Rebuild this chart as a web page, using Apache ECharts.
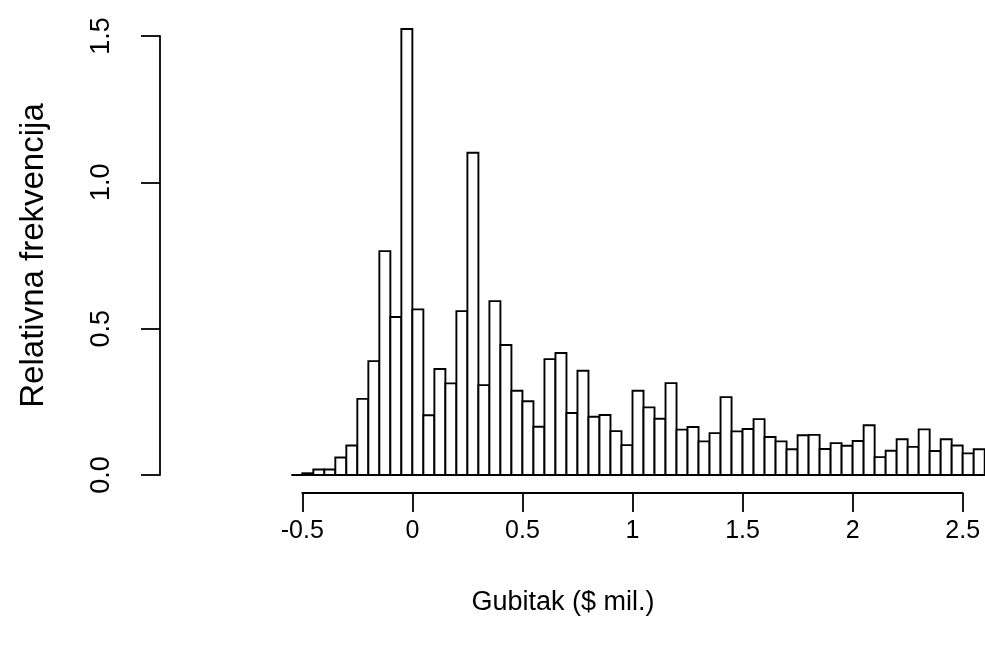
<!DOCTYPE html>
<html>
<head>
<meta charset="utf-8">
<script src="https://cdn.jsdelivr.net/npm/echarts@6/dist/echarts.min.js"></script>
<style>
html,body{margin:0;padding:0;background:#fff;}
#main{width:985px;height:647px;}
</style>
</head>
<body>
<div id="main"></div>
<script>
// Histogram bins (lower edges, width 0.05) and relative frequency (density) values
const binLower = [-0.55,-0.5,-0.45,-0.4,-0.35,-0.3,-0.25,-0.2,-0.15,-0.1,-0.05,
  0,0.05,0.1,0.15,0.2,0.25,0.3,0.35,0.4,0.45,0.5,0.55,0.6,0.65,0.7,0.75,0.8,0.85,0.9,0.95,
  1.0,1.05,1.1,1.15,1.2,1.25,1.3,1.35,1.4,1.45,1.5,1.55,1.6,1.65,1.7,1.75,1.8,1.85,1.9,1.95,
  2.0,2.05,2.1,2.15,2.2,2.25,2.3,2.35,2.4,2.45,2.5,2.55];
const binWidth = 0.05;
const density = [0.0,0.006,0.019,0.019,0.060,0.101,0.260,0.389,0.765,0.540,1.524,
  0.566,0.204,0.362,0.313,0.560,1.101,0.307,0.594,0.444,0.288,0.252,0.165,0.396,0.417,0.212,0.356,0.199,0.205,0.150,0.102,
  0.288,0.231,0.192,0.314,0.155,0.164,0.115,0.143,0.266,0.149,0.157,0.191,0.130,0.115,0.088,0.136,0.137,0.089,0.109,0.100,
  0.116,0.170,0.061,0.083,0.122,0.096,0.156,0.082,0.122,0.101,0.074,0.088];
const xTicks = [-0.5, 0, 0.5, 1, 1.5, 2, 2.5];
const yTicks = [0, 0.5, 1.0, 1.5];
const xTitle = 'Gubitak ($ mil.)';
const yTitle = 'Relativna frekvencija';

const FONT = '"Liberation Sans", Arial, sans-serif';
const chart = echarts.init(document.getElementById('main'), null, {renderer: 'canvas'});

const histData = binLower.map((lo, i) => [lo, lo + binWidth, density[i]]);

chart.setOption({
  animation: false,
  backgroundColor: '#ffffff',
  textStyle: {fontFamily: FONT},
  grid: [
    {left: 291.3, top: 36, width: 693.4, height: 439},
    {left: 302.3, top: 36, width: 660.4, height: 457}
  ],
  xAxis: [
    {gridIndex: 0, type: 'value', min: -0.55, max: 2.6, show: false},
    {gridIndex: 1, type: 'value', min: xTicks[0], max: xTicks[xTicks.length - 1], interval: 0.5,
     axisLine: {show: true, onZero: false, lineStyle: {color: '#000', width: 1.8}},
     axisTick: {show: true, inside: false, length: 19, lineStyle: {color: '#000', width: 1.8}},
     axisLabel: {show: true, margin: 26, color: '#000', fontSize: 25, fontFamily: FONT,
       formatter: v => String(v)},
     splitLine: {show: false}}
  ],
  yAxis: [
    {gridIndex: 0, type: 'value', min: yTicks[0], max: yTicks[yTicks.length - 1], interval: 0.5, offset: 131.3,
     axisLine: {show: true, onZero: false, lineStyle: {color: '#000', width: 1.8}},
     axisTick: {show: true, inside: false, length: 19, lineStyle: {color: '#000', width: 1.8}},
     axisLabel: {show: true, rotate: 90, margin: 45, color: '#000', fontSize: 27, fontFamily: FONT,
       formatter: v => v.toFixed(1)},
     splitLine: {show: false},
     name: yTitle, nameLocation: 'middle', nameRotate: 90, nameGap: 110,
     nameTextStyle: {color: '#000', fontSize: 33, fontFamily: FONT}},
    {gridIndex: 1, type: 'value', min: 0, max: 1, show: false}
  ],
  title: {
    text: xTitle, left: 558, top: 584, textAlign: 'center',
    textStyle: {color: '#000', fontSize: 27, fontWeight: 'normal', fontFamily: FONT}
  },
  series: [{
    type: 'custom',
    xAxisIndex: 0, yAxisIndex: 0,
    clip: false,
    data: histData,
    encode: {x: [0, 1], y: 2},
    renderItem: function (params, api) {
      const p0 = api.coord([api.value(0), api.value(2)]);
      const p1 = api.coord([api.value(1), 0]);
      return {
        type: 'rect',
        shape: {x: p0[0], y: p0[1], width: p1[0] - p0[0], height: p1[1] - p0[1]},
        style: {fill: '#ffffff', stroke: '#000000', lineWidth: 1.9}
      };
    }
  }]
});
</script>
</body>
</html>
